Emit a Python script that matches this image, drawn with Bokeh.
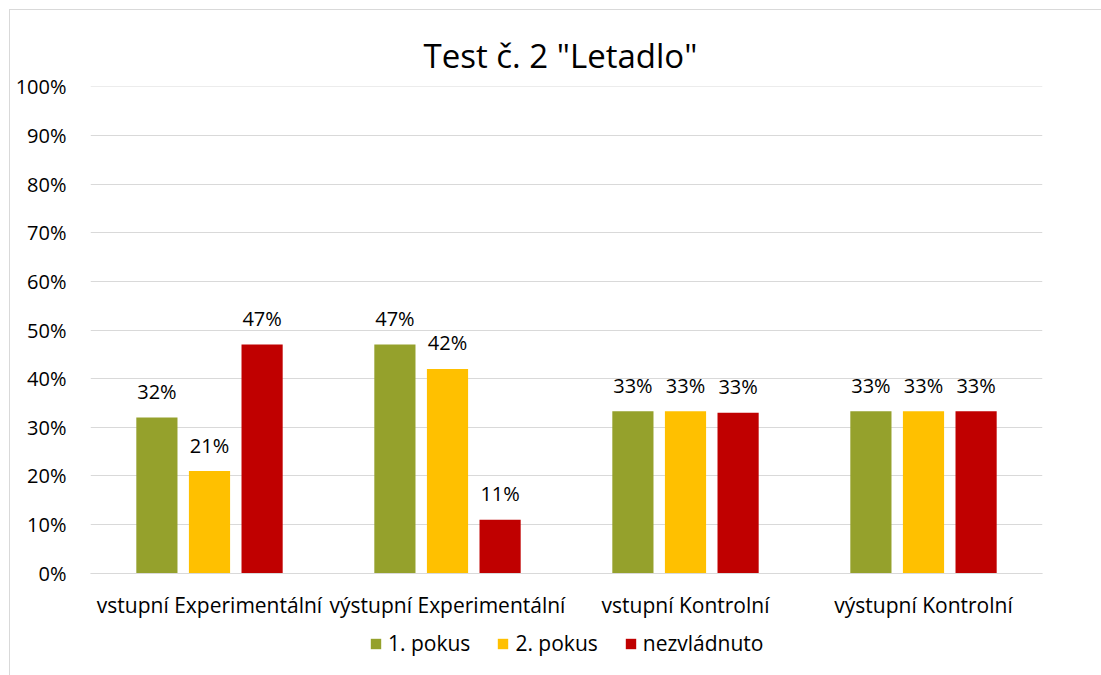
from bokeh.plotting import figure
from bokeh.layouts import column
from bokeh.models import ColumnDataSource, FactorRange, Range1d, Legend, LegendItem, NumeralTickFormatter, FixedTicker
from bokeh.transform import dodge
from bokeh.core.properties import value
from bokeh.embed import file_html
from bokeh.resources import INLINE

categories = ["vstupní Experimentální", "výstupní Experimentální", "vstupní Kontrolní", "výstupní Kontrolní"]
series_names = ["1. pokus", "2. pokus", "nezvládnuto"]
pokus1 = [32.0, 47.0, 33.3, 33.3]
pokus2 = [21.0, 42.0, 33.3, 33.3]
nezvladnuto = [47.0, 11.0, 33.0, 33.3]
colors = ["#95a12c", "#ffc000", "#c00000"]
yticks = [0, 10, 20, 30, 40, 50, 60, 70, 80, 90, 100]

FONT = "Open Sans"

src = ColumnDataSource(dict(
    cat=categories,
    s0=pokus1, s1=pokus2, s2=nezvladnuto,
    l0=[f"{round(v):d}%" for v in pokus1],
    l1=[f"{round(v):d}%" for v in pokus2],
    l2=[f"{round(v):d}%" for v in nezvladnuto],
))

p = figure(width=1091, height=620, x_range=FactorRange(*categories, range_padding=0),
           y_range=Range1d(-0.05, 100.05), output_backend="svg", toolbar_location=None,
           min_border_left=80, min_border_right=59, min_border_top=76, min_border_bottom=57)
p.x_range.factor_padding = 0

p.title.text = 'Test č. 2 "Letadlo"'
p.title.align = "left"
p.title.text_font = FONT
p.title.text_font_size = "33px"
p.title.text_font_style = "normal"
p.title.text_color = "#000000"
p.title.offset = 333
p.title.standoff = 17

offsets = [-0.221, 0.0, 0.221]
for i, off in enumerate(offsets):
    p.vbar(x=dodge("cat", off, range=p.x_range), top=f"s{i}", width=0.173, source=src,
           fill_color=colors[i], line_color=None)
    p.text(x=dodge("cat", off, range=p.x_range), y=f"s{i}", text=f"l{i}", source=src,
           text_align="center", text_baseline="middle", y_offset=-26,
           text_font=value(FONT), text_font_size="20px", text_color="#000000")

p.yaxis.ticker = FixedTicker(ticks=yticks)
p.yaxis.formatter = NumeralTickFormatter(format="0")
p.yaxis.major_label_overrides = {t: f"{t}%" for t in yticks}
p.yaxis.axis_line_color = None
p.yaxis.major_tick_line_color = None
p.yaxis.minor_tick_line_color = None
p.yaxis.major_label_standoff = 18
p.yaxis.major_label_text_font = FONT
p.yaxis.major_label_text_font_size = "20px"
p.yaxis.major_label_text_color = "#000000"

p.xaxis.axis_line_color = "#d9d9d9"
p.xaxis.axis_line_width = 1
p.xaxis.major_tick_line_color = None
p.xaxis.minor_tick_line_color = None
p.xaxis.major_label_standoff = 11
p.xaxis.major_label_text_font = FONT
p.xaxis.major_label_text_font_size = "21px"
p.xaxis.major_label_text_color = "#000000"

p.xgrid.grid_line_color = None
p.ygrid.grid_line_color = "#d9d9d9"
p.ygrid.grid_line_width = 1
p.outline_line_color = None

# legend-only figure below the chart (dummy zero-size renderers supply the swatches)
p2 = figure(width=1091, height=45, x_range=Range1d(0, 1), y_range=Range1d(0, 1),
            output_backend="svg", toolbar_location=None,
            min_border_left=0, min_border_right=0, min_border_top=0, min_border_bottom=0,
            x_axis_location=None, y_axis_location=None)
p2.grid.visible = False
p2.outline_line_color = None
leg_renderers = [p2.vbar(x=[-5], top=[0], bottom=[0], width=0, fill_color=colors[i], line_color=None)
                 for i in range(3)]
legend = Legend(items=[LegendItem(label=series_names[i], renderers=[leg_renderers[i]]) for i in range(3)],
                orientation="horizontal", location=(279, 18),
                label_text_font=FONT, label_text_font_size="21px", label_text_color="#000000",
                glyph_width=13, glyph_height=13, spacing=26, label_standoff=6,
                border_line_color=None, background_fill_alpha=0, margin=0, padding=0)
p2.add_layout(legend, "center")

layout = column(p, p2, spacing=0)
layout.margin = (9, 0, 0, 9)
layout.styles = {"border-left": "1px solid #d9d9d9", "border-top": "1px solid #d9d9d9"}

open("out.html", "w").write(file_html(layout, INLINE))
